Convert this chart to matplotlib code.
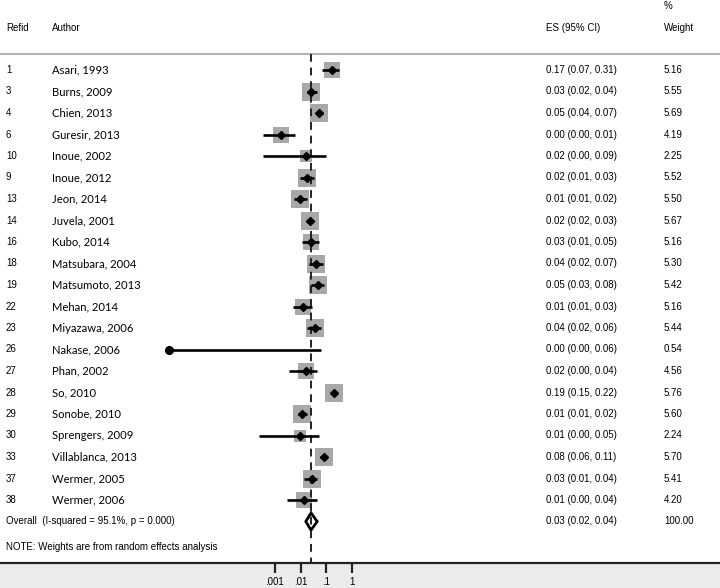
import matplotlib.pyplot as plt
from matplotlib.patches import Polygon
from matplotlib.ticker import NullLocator

# study data
refid = [1, 3, 4, 6, 10, 9, 13, 14, 16, 18, 19, 22, 23, 26, 27, 28, 29, 30, 33, 37, 38]
authors = ['Asari, 1993', 'Burns, 2009', 'Chien, 2013', 'Guresir, 2013', 'Inoue, 2002',
           'Inoue, 2012', 'Jeon, 2014', 'Juvela, 2001', 'Kubo, 2014', 'Matsubara, 2004',
           'Matsumoto, 2013', 'Mehan, 2014', 'Miyazawa, 2006', 'Nakase, 2006', 'Phan, 2002',
           'So, 2010', 'Sonobe, 2010', 'Sprengers, 2009', 'Villablanca, 2013',
           'Wermer, 2005', 'Wermer, 2006']
es = [0.17, 0.026, 0.053, 0.0018, 0.0159, 0.0178, 0.0098, 0.0233, 0.026, 0.0407, 0.049,
      0.0128, 0.0363, 0.0, 0.016, 0.19, 0.0111, 0.0096, 0.082, 0.0271, 0.0135]
ci_lo = [0.07, 0.0173, 0.0386, 0.00037, 0.00037, 0.0096, 0.0056, 0.0163, 0.0111, 0.021, 0.026,
         0.0053, 0.0183, 0.0, 0.0037, 0.15, 0.0078, 0.00024, 0.0566, 0.0137, 0.0029]
ci_hi = [0.31, 0.042, 0.072, 0.006, 0.093, 0.0332, 0.0183, 0.0341, 0.0532, 0.072, 0.083,
         0.0271, 0.064, 0.063, 0.0422, 0.22, 0.0173, 0.054, 0.11, 0.044, 0.044]
weights = [5.16, 5.55, 5.69, 4.19, 2.25, 5.52, 5.50, 5.67, 5.16, 5.30, 5.42, 5.16, 5.44,
           0.54, 4.56, 5.76, 5.60, 2.24, 5.70, 5.41, 4.20]

overall_es, overall_lo, overall_hi = 0.0255, 0.016, 0.044
overall_weight = 100.0
i_squared, p_het = 95.1, 0.000

# layout in pixels of a 720x588 canvas
step = 21.5          # row spacing
first = 70           # centre of first study row
px_dec = 25.9        # pixels per decade on the log axis
px_01 = 300.5        # pixel position of 0.01
floor = 10 ** (-2 + (169 - px_01) / px_dec)   # where zero values are drawn


def row(ypix):
    return (ypix - first) / step


fig = plt.figure(figsize=(7.2, 5.88), dpi=100, facecolor='#ebebeb')
ax = fig.add_axes([0, 25 / 588, 1, 563 / 588])
ax.set_facecolor('white')
ax.set_xscale('log')
ax.set_xlim(10 ** (-2 - px_01 / px_dec), 10 ** (-2 + (720 - px_01) / px_dec))
ax.set_ylim(row(563), row(0))

for s in ['top', 'left', 'right']:
    ax.spines[s].set_visible(False)
ax.spines['bottom'].set_linewidth(1.6)
ax.spines['bottom'].set_color('#222222')
ax.set_yticks([])
ax.set_xticks([0.001, 0.01, 0.1, 1])
ax.set_xticklabels(['.001', '.01', '.1', '1'], fontfamily='Liberation Sans')
ax.xaxis.set_minor_locator(NullLocator())
ax.tick_params(axis='x', length=7, width=1.6, pad=3, labelsize=7, color='#222222')

# header
header_row = row(54)
ax.axhline(header_row, color='#b4b4b4', lw=1.5)
tr = ax.get_yaxis_transform()
small = dict(fontsize=7, fontfamily='Liberation Sans', va='center', ha='left', transform=tr)
ax.text(6 / 720, row(28), 'Refid', **small)
ax.text(52 / 720, row(28), 'Author', **small)
ax.text(546 / 720, row(28), 'ES (95% CI)', **small)
ax.text(664 / 720, row(6), '%', **small)
ax.text(664 / 720, row(28), 'Weight', **small)

# overall reference line
n = len(es)
ax.vlines(overall_es, header_row, row(563), colors='#222222', lw=1.4,
          linestyles=(0, (4, 3)), zorder=4)

for i in range(n):
    e = es[i] if es[i] > 0 else floor
    lo = ci_lo[i] if ci_lo[i] > 0 else floor
    side = 7.48 * weights[i] ** 0.5 * 0.72
    ax.scatter([e], [i], s=side ** 2, marker='s', color='#a8a8a8', zorder=3, linewidths=0)
    ax.plot([lo, ci_hi[i]], [i, i], color='black', lw=1.9, zorder=5, solid_capstyle='butt')
    if es[i] > 0:
        ax.plot(e, i, marker='D', ms=4, color='black', zorder=6)
    else:
        ax.plot(e, i, marker='o', ms=5.5, color='black', zorder=6)

    ax.text(6 / 720, i, str(refid[i]), **small)
    ax.text(52 / 720, i, authors[i], fontsize=8.1, fontfamily='Lato', va='center',
            ha='left', transform=tr)
    ax.text(546 / 720, i, '%.2f (%.2f, %.2f)' % (es[i], ci_lo[i], ci_hi[i]), **small)
    ax.text(664 / 720, i, '%.2f' % weights[i], **small)

# overall diamond
ov = n
half = 0.4
ax.add_patch(Polygon([(overall_lo, ov), (overall_es, ov - half), (overall_hi, ov),
                      (overall_es, ov + half)], closed=True, facecolor='white',
                     edgecolor='black', lw=2, zorder=3))
ax.text(6 / 720, ov, 'Overall  (I-squared = %.1f%%, p = %.3f)' % (i_squared, p_het), **small)
ax.text(546 / 720, ov, '%.2f (%.2f, %.2f)' % (overall_es, overall_lo, overall_hi), **small)
ax.text(664 / 720, ov, '%.2f' % overall_weight, **small)

ax.text(6 / 720, row(547), 'NOTE: Weights are from random effects analysis', **small)

fig.savefig('out.png', dpi=100, facecolor=fig.get_facecolor())
